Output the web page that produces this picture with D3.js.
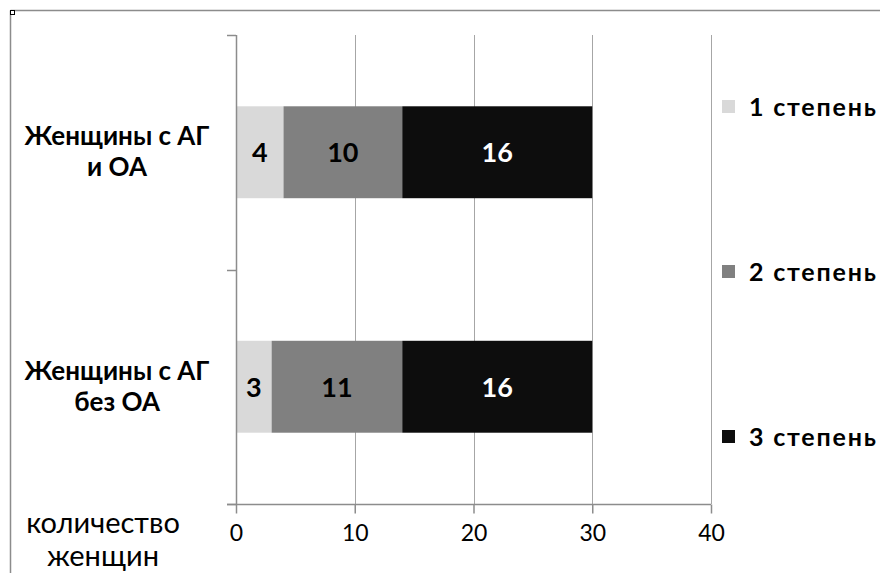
<!DOCTYPE html>
<html>
<head>
<meta charset="utf-8">
<script src="https://cdn.jsdelivr.net/npm/d3@7"></script>
<style>
  body { margin: 0; background: #fff; }
  svg { display: block; font-family: Lato, "Open Sans", sans-serif; }
</style>
</head>
<body>
<svg id="chart" width="880" height="573"></svg>
<script>
// Categories (top to bottom) and series values
const categories = [["Женщины с АГ", "и ОА"], ["Женщины с АГ", "без ОА"]];
const seriesNames = ["1 степень", "2 степень", "3 степень"];
const degree1 = [4, 3];
const degree2 = [10, 11];
const degree3 = [16, 16];
const xTicks = [0, 10, 20, 30, 40];
const axisTitle = ["количество", "женщин"];

const colors = ["#d9d9d9", "#808080", "#0d0d0d"];
const labelColors = ["#000", "#000", "#fff"];

const svg = d3.select("#chart");
const W = 880, H = 573;
const plot = { left: 236, right: 711, top: 35, bottom: 504 };
const font = "Lato, 'Open Sans', sans-serif";

// Outer frame (top and left edges) with the small corner handle
svg.append("line").attr("x1", 10.5).attr("x2", W).attr("y1", 10.5).attr("y2", 10.5)
  .attr("stroke", "#8c8c8c").attr("stroke-width", 1.5);
svg.append("line").attr("x1", 10.5).attr("x2", 10.5).attr("y1", 10.5).attr("y2", H)
  .attr("stroke", "#8c8c8c").attr("stroke-width", 1.5);
svg.append("rect").attr("x", 10.5).attr("y", 10.5).attr("width", 4).attr("height", 4)
  .attr("fill", "#fff").attr("stroke", "#000").attr("stroke-width", 1);

const x = d3.scaleLinear().domain([0, 40]).range([plot.left, plot.right]);
const catIdx = categories.map((d, i) => i);
const y = d3.scaleBand().domain(catIdx).range([plot.top, plot.bottom])
  .paddingInner(0.608).paddingOuter(0.304);

// Vertical gridlines
svg.append("g").selectAll("line").data(xTicks.slice(1)).join("line")
  .attr("x1", d => Math.round(x(d)) + 0.5).attr("x2", d => Math.round(x(d)) + 0.5)
  .attr("y1", plot.top).attr("y2", plot.bottom)
  .attr("stroke", "#a6a6a6").attr("stroke-width", 1);

// Stacked segments
const rows = catIdx.map(i => ({ i, vals: [degree1[i], degree2[i], degree3[i]] }));
const stackData = rows.map(r => {
  let acc = 0;
  return r.vals.map((v, k) => { const s = { i: r.i, k, v, x0: acc, x1: acc + v }; acc += v; return s; });
}).flat();

svg.append("g").selectAll("rect").data(stackData).join("rect")
  .attr("x", d => x(d.x0)).attr("width", d => x(d.x1) - x(d.x0))
  .attr("y", d => y(d.i)).attr("height", y.bandwidth())
  .attr("fill", d => colors[d.k]);

svg.append("g").selectAll("text").data(stackData).join("text")
  .attr("x", d => (x(d.x0) + x(d.x1)) / 2)
  .attr("y", d => y(d.i) + y.bandwidth() / 2 + 10)
  .attr("text-anchor", "middle")
  .attr("font-size", 27).attr("font-weight", "bold")
  .attr("fill", d => labelColors[d.k])
  .text(d => d.v);

// X axis
const xAxis = svg.append("g").attr("transform", `translate(0,${plot.bottom + 0.5})`)
  .call(d3.axisBottom(x).tickValues(xTicks).tickSize(9).tickPadding(14).tickFormat(d3.format("d")));
xAxis.select(".domain").attr("d", `M${plot.left - 9},0H${plot.right}`).attr("stroke", "#8c8c8c").attr("stroke-width", 1.5);
xAxis.selectAll(".tick line").attr("stroke", "#8c8c8c").attr("stroke-width", 1.5);
xAxis.selectAll(".tick text").attr("font-size", 23).attr("fill", "#000")
  .attr("font-family", font).attr("dy", "0.6em");

// Y axis: line with ticks at category boundaries
const yTickPos = [plot.top, (plot.top + plot.bottom) / 2, plot.bottom];
svg.append("line").attr("x1", plot.left + 0.5).attr("x2", plot.left + 0.5)
  .attr("y1", plot.top).attr("y2", plot.bottom)
  .attr("stroke", "#8c8c8c").attr("stroke-width", 1.5);
svg.append("g").selectAll("line").data(yTickPos).join("line")
  .attr("x1", plot.left - 9).attr("x2", plot.left)
  .attr("y1", d => Math.round(d) + 0.5).attr("y2", d => Math.round(d) + 0.5)
  .attr("stroke", "#8c8c8c").attr("stroke-width", 1.5);

// Category labels
const catLabels = svg.append("g").selectAll("text").data(catIdx).join("text")
  .attr("text-anchor", "middle").attr("font-size", 26).attr("font-weight", "bold").attr("fill", "#000");
catLabels.each(function(i) {
  const cy = y(i) + y.bandwidth() / 2;
  d3.select(this).selectAll("tspan").data(categories[i]).join("tspan")
    .attr("x", 117).attr("y", (d, j) => cy - 7 + j * 31).text(d => d);
});

// Axis title
svg.append("text").attr("text-anchor", "middle").attr("font-size", 29).attr("fill", "#000")
  .selectAll("tspan").data(axisTitle).join("tspan")
  .attr("x", 103).attr("y", (d, j) => 533 + j * 33).text(d => d);

// Legend
const legendY = [107, 272, 437];
const legend = svg.append("g").selectAll("g").data(seriesNames).join("g")
  .attr("transform", (d, k) => `translate(722,${legendY[k]})`);
legend.append("rect").attr("x", 0).attr("y", -7).attr("width", 13).attr("height", 13)
  .attr("fill", (d, k) => colors[k]);
legend.append("text").attr("x", 27).attr("y", 9)
  .attr("font-size", 25).attr("font-weight", "bold").attr("letter-spacing", 1.8)
  .attr("fill", "#000").text(d => d);
</script>
</body>
</html>
